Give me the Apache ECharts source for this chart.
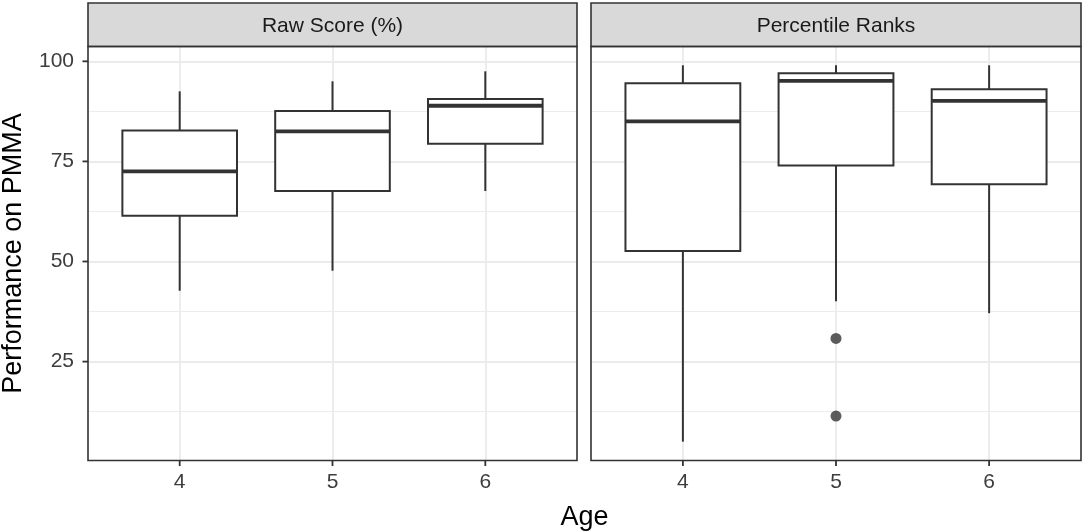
<!DOCTYPE html>
<html>
<head>
<meta charset="utf-8">
<script src="https://cdn.jsdelivr.net/npm/echarts@6/dist/echarts.min.js"></script>
<style>html,body{margin:0;padding:0;background:#fff}#c{width:1084px;height:531px}</style>
</head>
<body>
<div id="c"></div>
<script>
// ---- data ----
const panels = ['Raw Score (%)', 'Percentile Ranks'];
const ages = [4, 5, 6];
// [lower whisker, Q1, median, Q3, upper whisker]
const rawScore = [
  [42.7, 61.4, 72.5, 82.7, 92.5],
  [47.7, 67.6, 82.5, 87.6, 95.0],
  [67.6, 79.4, 88.9, 90.6, 97.5]
];
const percentileRanks = [
  [5.0, 52.6, 85.0, 94.5, 99.0],
  [40.1, 74.0, 95.1, 97.0, 99.0],
  [37.1, 69.3, 90.1, 93.0, 99.0]
];
const outlierAges = [5, 5];
const outlierValues = [30.8, 11.4];
const yTicks = [25, 50, 75, 100];
const yMinor = [12.5, 37.5, 62.5, 87.5];

// ---- layout ----
const FONT = "'Liberation Sans', Arial, Helvetica, sans-serif";
const G = [
  {left: 88, width: 489},
  {left: 591, width: 490}
];
const TOP = 46.5, H = 414;
const INK = '#333333';
const TICK_LEN = 5.5;

const chart = echarts.init(document.getElementById('c'), null, {renderer: 'canvas'});

function boxData(stats) {
  return stats.map((s, i) => [ages[i]].concat(s));
}

function renderBox(params, api) {
  const x = api.value(0);
  const lo = api.coord([x, api.value(1)]);
  const q1 = api.coord([x, api.value(2)]);
  const md = api.coord([x, api.value(3)]);
  const q3 = api.coord([x, api.value(4)]);
  const hi = api.coord([x, api.value(5)]);
  const hw = api.size([0.75, 0])[0] / 2;
  const st = {stroke: INK, lineWidth: 2};
  return {
    type: 'group',
    children: [
      {type: 'line', shape: {x1: lo[0], y1: lo[1], x2: q1[0], y2: q1[1]}, style: st},
      {type: 'line', shape: {x1: q3[0], y1: q3[1], x2: hi[0], y2: hi[1]}, style: st},
      {type: 'rect', shape: {x: q3[0] - hw, y: q3[1], width: 2 * hw, height: q1[1] - q3[1]},
        style: {fill: '#ffffff', stroke: INK, lineWidth: 2}},
      {type: 'line', shape: {x1: md[0] - hw, y1: md[1], x2: md[0] + hw, y2: md[1]},
        style: {stroke: INK, lineWidth: 3.8}}
    ]
  };
}

// axis tick marks drawn through the axis scales
function renderYTick(params, api) {
  const cs = params.coordSys;
  const p = api.coord([3.4, api.value(1)]);
  return {type: 'line', shape: {x1: cs.x - TICK_LEN, y1: p[1], x2: cs.x, y2: p[1]},
    style: {stroke: INK, lineWidth: 1.8}};
}
function renderXTick(params, api) {
  const cs = params.coordSys;
  const p = api.coord([api.value(0), 50]);
  const yb = cs.y + cs.height;
  return {type: 'line', shape: {x1: p[0], y1: yb, x2: p[0], y2: yb + TICK_LEN},
    style: {stroke: INK, lineWidth: 1.8}};
}

function gridLines() {
  const d = [];
  yTicks.forEach(v => d.push({yAxis: v, lineStyle: {color: '#ebebeb', width: 1.8, type: 'solid'}}));
  yMinor.forEach(v => d.push({yAxis: v, lineStyle: {color: '#ebebeb', width: 0.9, type: 'solid'}}));
  ages.forEach(v => d.push({xAxis: v, lineStyle: {color: '#ebebeb', width: 1.8, type: 'solid'}}));
  return {silent: true, symbol: ['none', 'none'], label: {show: false}, z: 1, animation: false, data: d};
}

const grids = G.map(g => ({left: g.left, top: TOP, width: g.width, height: H, show: true,
  backgroundColor: '#ffffff', borderWidth: 0}));

const xAxes = G.map((g, i) => ({
  type: 'value', gridIndex: i, min: 3.4, max: 6.6, position: 'bottom',
  splitLine: {show: false},
  axisLine: {show: false, onZero: false},
  axisTick: {show: false},
  axisLabel: {show: true, customValues: ages, color: '#3d3d3d', fontSize: 21, fontFamily: FONT, margin: 11,
    formatter: v => String(v)}
}));

const yAxes = G.map((g, i) => ({
  type: 'value', gridIndex: i, min: 0.3, max: 103.7, position: 'left',
  splitLine: {show: false},
  axisLine: {show: false, onZero: false},
  axisTick: {show: false},
  axisLabel: {show: i === 0, customValues: yTicks, color: '#3d3d3d', fontSize: 21, fontFamily: FONT, margin: 14,
    formatter: v => String(v)}
}));

const series = [];
[rawScore, percentileRanks].forEach((stats, i) => {
  series.push({
    type: 'custom', xAxisIndex: i, yAxisIndex: i, z: 3,
    renderItem: renderBox,
    encode: {x: 0, y: [1, 2, 3, 4, 5]},
    data: boxData(stats),
    markLine: gridLines(),
    silent: true, animation: false
  });
  series.push({
    type: 'custom', xAxisIndex: i, yAxisIndex: i, z: 5, clip: false,
    renderItem: renderXTick,
    encode: {x: 0, y: 1},
    data: ages.map(a => [a, 50]),
    silent: true, animation: false
  });
});
series.push({
  type: 'custom', xAxisIndex: 0, yAxisIndex: 0, z: 5, clip: false,
  renderItem: renderYTick,
  encode: {x: 0, y: 1},
  data: yTicks.map(v => [5, v]),
  silent: true, animation: false
});
series.push({
  type: 'scatter', xAxisIndex: 1, yAxisIndex: 1, z: 4,
  symbol: 'circle', symbolSize: 11,
  itemStyle: {color: INK},
  data: outlierAges.map((a, i) => [a, outlierValues[i]]),
  silent: true, animation: false
});

const graphics = [];
G.forEach((g, i) => {
  graphics.push({type: 'rect', x: g.left, y: 3, z: 100, silent: true,
    shape: {x: 0, y: 0, width: g.width, height: TOP - 3},
    style: {fill: '#d9d9d9', stroke: INK, lineWidth: 1.6}});
  graphics.push({type: 'text', x: g.left + g.width / 2, y: (3 + TOP) / 2 + 1, z: 101, silent: true,
    style: {text: panels[i], fill: '#1a1a1a', font: '21px ' + FONT, textAlign: 'center', textVerticalAlign: 'middle'}});
  graphics.push({type: 'rect', x: g.left, y: TOP, z: 100, silent: true,
    shape: {x: 0, y: 0, width: g.width, height: H},
    style: {fill: 'none', stroke: INK, lineWidth: 1.6}});
});
graphics.push({type: 'text', x: 14, y: TOP + H / 2, rotation: Math.PI / 2, z: 101, silent: true,
  style: {text: 'Performance on PMMA', fill: '#000000', font: '27px ' + FONT, textAlign: 'center', textVerticalAlign: 'middle'}});
graphics.push({type: 'text', x: (G[0].left + G[1].left + G[1].width) / 2, y: 518, z: 101, silent: true,
  style: {text: 'Age', fill: '#000000', font: '27px ' + FONT, textAlign: 'center', textVerticalAlign: 'middle'}});

chart.setOption({
  animation: false,
  backgroundColor: '#ffffff',
  grid: grids,
  xAxis: xAxes,
  yAxis: yAxes,
  series: series,
  graphic: graphics
});
</script>
</body>
</html>
